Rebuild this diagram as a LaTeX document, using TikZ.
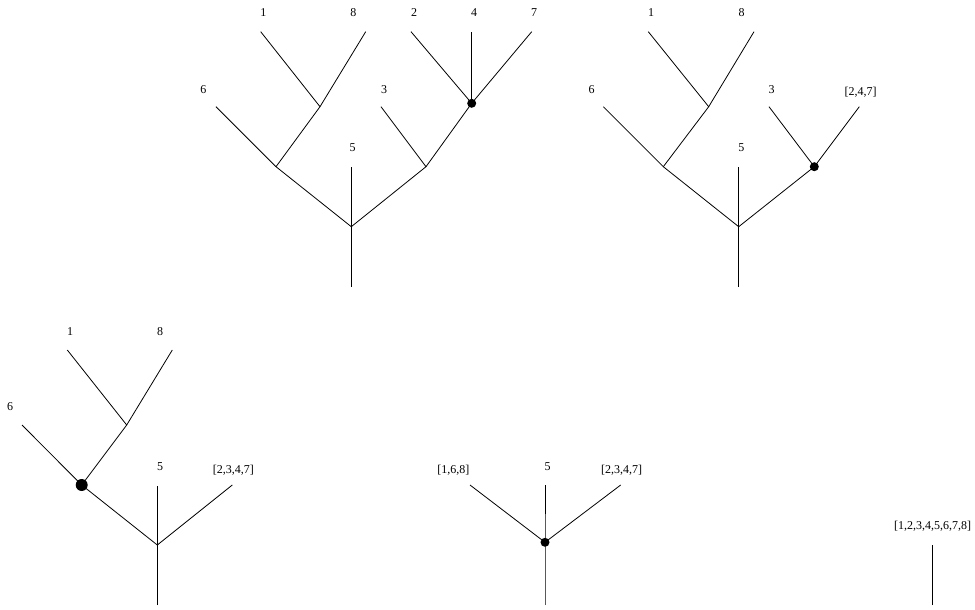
\documentclass[tikz,border=0pt]{standalone}
\usepackage{fontspec}
\setmainfont{Liberation Serif}
\begin{document}
\begin{tikzpicture}[x=1pt,y=-1pt,
  lbl/.style={font=\fontsize{12}{14}\selectfont, inner sep=0pt, anchor=base},
  edge/.style={line width=0.8pt},
  jdot/.style={circle, fill=black, inner sep=0pt, minimum size=9pt},
  bigdot/.style={circle, fill=black, inner sep=0pt, minimum size=12pt}]
\useasboundingbox (0,0) rectangle (975,610);
% ---------- Tree 1 ----------
\coordinate (t1r) at (351.3,286.7);
\coordinate (t1j) at (351.3,226.7);
\coordinate (t1e5) at (351.3,166.7);
\coordinate (t1a) at (276,166.7);
\coordinate (t1e6) at (216,106.7);
\coordinate (t1b) at (320,106.7);
\coordinate (t1e1) at (260.7,31.7);
\coordinate (t1e8) at (365.7,31.7);
\coordinate (t1c) at (426,166.7);
\coordinate (t1e3) at (381,106.7);
\node[jdot] (t1d) at (471.7,103.3) {};
\coordinate (t1e2) at (411,31.7);
\coordinate (t1e4) at (471.7,31.7);
\coordinate (t1e7) at (531.7,31.7);
\draw[edge] (t1r) -- (t1j) -- (t1e5);
\draw[edge] (t1j) -- (t1a) -- (t1e6);
\draw[edge] (t1a) -- (t1b) -- (t1e1);
\draw[edge] (t1b) -- (t1e8);
\draw[edge] (t1j) -- (t1c) -- (t1e3);
\draw[edge] (t1c) -- (t1d.center);
\draw[edge] (t1d.center) -- (t1e2);
\draw[edge] (t1d.center) -- (t1e4);
\draw[edge] (t1d.center) -- (t1e7);
\node[lbl] (t1n1) at (263.3,16.7) {1};
\node[lbl] (t1n8) at (353.3,16.7) {8};
\node[lbl] (t1n2) at (414,16.7) {2};
\node[lbl] (t1n4) at (474,16.7) {4};
\node[lbl] (t1n7) at (534,16.7) {7};
\node[lbl] (t1n6) at (203.3,93.3) {6};
\node[lbl] (t1n3) at (384,93.3) {3};
\node[lbl] (t1n5) at (352.7,151.7) {5};
% ---------- Tree 2 ----------
\coordinate (t2r) at (738.7,286.7);
\coordinate (t2j) at (738.7,226.7);
\coordinate (t2e5) at (738.7,166.7);
\coordinate (t2a) at (663.3,166.7);
\coordinate (t2e6) at (603.3,106.7);
\coordinate (t2b) at (708.7,106.7);
\coordinate (t2e1) at (648.3,31.7);
\coordinate (t2e8) at (754,31.7);
\node[jdot] (t2c) at (814.3,166.7) {};
\coordinate (t2e3) at (769,106.7);
\coordinate (t2e247) at (859.3,106.7);
\draw[edge] (t2r) -- (t2j) -- (t2e5);
\draw[edge] (t2j) -- (t2a) -- (t2e6);
\draw[edge] (t2a) -- (t2b) -- (t2e1);
\draw[edge] (t2b) -- (t2e8);
\draw[edge] (t2j) -- (t2c.center);
\draw[edge] (t2c.center) -- (t2e3);
\draw[edge] (t2c.center) -- (t2e247);
\node[lbl] (t2n1) at (651,16.7) {1};
\node[lbl] (t2n8) at (741.7,16.7) {8};
\node[lbl] (t2n6) at (591.7,93.3) {6};
\node[lbl] (t2n3) at (771.7,93.3) {3};
\node[lbl] (t2n247) at (860.7,95.5) {[2,4,7]};
\node[lbl] (t2n5) at (741.3,151.7) {5};
% ---------- Tree 3 ----------
\coordinate (t3r) at (157.3,605);
\coordinate (t3j) at (157.3,545);
\coordinate (t3e5) at (157.3,485.7);
\node[bigdot] (t3a) at (81.7,485) {};
\coordinate (t3e6) at (22,425);
\coordinate (t3b) at (126.7,425);
\coordinate (t3e1) at (67.3,350);
\coordinate (t3e8) at (172.3,350);
\coordinate (t3e2347) at (232.3,485);
\draw[edge] (t3r) -- (t3j) -- (t3e5);
\draw[edge] (t3j) -- (t3a.center);
\draw[edge] (t3a.center) -- (t3e6);
\draw[edge] (t3a.center) -- (t3b) -- (t3e1);
\draw[edge] (t3b) -- (t3e8);
\draw[edge] (t3j) -- (t3e2347);
\node[lbl] (t3n1) at (70,335) {1};
\node[lbl] (t3n8) at (160,335) {8};
\node[lbl] (t3n6) at (10,410.7) {6};
\node[lbl] (t3n5) at (160,470.7) {5};
\node[lbl] (t3n2347) at (233.3,473.5) {[2,3,4,7]};
% ---------- Tree 4 ----------
\coordinate (t4r) at (545,605);
\node[jdot] (t4j) at (545,542.3) {};
\coordinate (t4e5) at (545,485);
\coordinate (t4e168) at (470,485);
\coordinate (t4e2347) at (620.7,485);
\draw[edge] (t4r) -- (t4j.center) -- (t4e5);
\draw[edge] (t4j.center) -- (t4e168);
\draw[edge] (t4j.center) -- (t4e2347);
\node[lbl] (t4n168) at (453.3,473.5) {[1,6,8]};
\node[lbl] (t4n5) at (547.7,470.7) {5};
\node[lbl] (t4n2347) at (621.7,473.5) {[2,3,4,7]};
% ---------- Tree 5 ----------
\coordinate (t5r) at (932.7,605);
\coordinate (t5e) at (932.7,545);
\draw[edge] (t5r) -- (t5e);
\node[lbl] (t5n) at (932.7,529.2) {[1,2,3,4,5,6,7,8]};
\end{tikzpicture}
\end{document}
